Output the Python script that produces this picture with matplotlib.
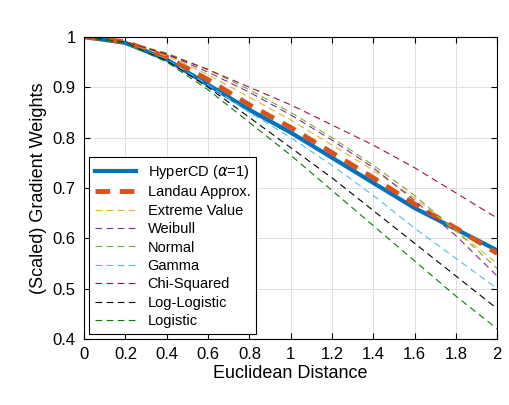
import matplotlib
matplotlib.use("Agg")
import matplotlib.pyplot as plt
plt.rcParams['font.family'] = ['Liberation Sans', 'DejaVu Sans']
plt.rcParams['mathtext.fontset'] = 'dejavusans'

x = [0, 0.2, 0.4, 0.6, 0.8, 1.0, 1.2, 1.4, 1.6, 1.8, 2.0]
hypercd = [1, 0.988, 0.955, 0.905, 0.855, 0.81, 0.76, 0.71, 0.66, 0.618, 0.576]
landau = [1, 0.99, 0.96, 0.915, 0.865, 0.82, 0.77, 0.72, 0.668, 0.62, 0.57]
extreme = [1, 0.99, 0.962, 0.925, 0.88, 0.835, 0.785, 0.735, 0.68, 0.615, 0.55]
weibull = [1, 0.99, 0.965, 0.93, 0.89, 0.845, 0.795, 0.74, 0.675, 0.605, 0.525]
normal = [1, 0.99, 0.968, 0.935, 0.895, 0.85, 0.80, 0.745, 0.685, 0.615, 0.54]
gamma = [1, 0.988, 0.955, 0.905, 0.85, 0.80, 0.745, 0.685, 0.62, 0.56, 0.5]
chisq = [1, 0.99, 0.966, 0.935, 0.9, 0.865, 0.825, 0.785, 0.74, 0.69, 0.64]
loglog = [1, 0.988, 0.953, 0.9, 0.84, 0.78, 0.72, 0.655, 0.59, 0.525, 0.46]
logistic = [1, 0.988, 0.95, 0.895, 0.83, 0.765, 0.695, 0.625, 0.555, 0.485, 0.42]

fig = plt.figure(figsize=(5.1, 4.05), dpi=100)
ax = fig.add_axes([0.165, 0.163, 0.81, 0.746])
ax.plot(x, hypercd, color='#0072BD', lw=3, label=r'HyperCD ($\alpha$=1)')
ax.plot(x, landau, color='#D95319', lw=3.5, ls=(0, (3, 2)), label='Landau Approx.')
thin = [(extreme, '#EDB120', 'Extreme Value'), (weibull, '#7E2F8E', 'Weibull'),
        (normal, '#77AC30', 'Normal'), (gamma, '#4DBEEE', 'Gamma'),
        (chisq, '#A2142F', 'Chi-Squared'), (loglog, 'black', 'Log-Logistic'),
        (logistic, '#008000', 'Logistic')]
for ys, c, lab in thin:
    ax.plot(x, ys, color=c, lw=0.8, ls=(0, (6, 4)), label=lab)
ax.set_xlim(0, 2)
ax.set_ylim(0.4, 1)
ax.set_xticks([0, 0.2, 0.4, 0.6, 0.8, 1, 1.2, 1.4, 1.6, 1.8, 2])
ax.set_xticklabels(['0', '0.2', '0.4', '0.6', '0.8', '1', '1.2', '1.4', '1.6', '1.8', '2'])
ax.set_yticks([0.4, 0.5, 0.6, 0.7, 0.8, 0.9, 1])
ax.set_yticklabels(['0.4', '0.5', '0.6', '0.7', '0.8', '0.9', '1'])
ax.grid(True, color='#e0e0e0', lw=0.7)
ax.set_axisbelow(True)
ax.tick_params(direction='in', labelsize=12, length=4, top=True, right=True, pad=6)
ax.set_xlabel('Euclidean Distance', fontsize=13, labelpad=2)
ax.set_ylabel('(Scaled) Gradient Weights', fontsize=13)
leg = ax.legend(loc='lower left', fontsize=10.5, fancybox=False, edgecolor='black',
                handlelength=2.8, borderaxespad=0.35, labelspacing=0.3, framealpha=1)
leg.get_frame().set_linewidth(0.8)
fig.savefig('out.png', dpi=100)
